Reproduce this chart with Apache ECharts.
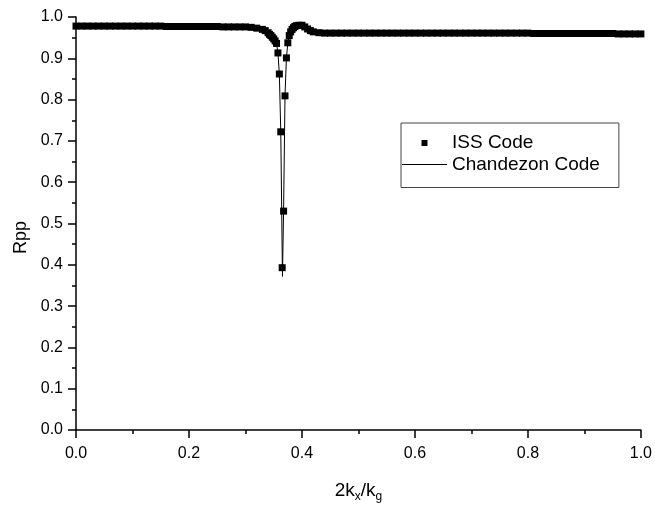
<!DOCTYPE html>
<html>
<head>
<meta charset="utf-8">
<script src="https://cdn.jsdelivr.net/npm/echarts@6/dist/echarts.min.js"></script>
<style>html,body{margin:0;padding:0;background:#fff}#c{width:655px;height:508px}</style>
</head>
<body>
<div id="c"></div>
<script>
// ISS Code (square markers)
const issX = [0.00,0.01,0.02,0.03,0.04,0.05,0.06,0.07,0.08,0.09,0.10,0.11,0.12,0.13,0.14,0.15,0.16,0.17,0.18,0.19,0.20,0.21,0.22,0.23,0.24,0.25,0.26,0.27,0.28,0.29,0.30,0.31,0.32,0.33,
  0.335,0.34,0.3425,0.345,0.3475,0.35,0.3525,0.355,0.3575,0.36,0.3625,0.365,0.3675,0.37,0.3725,0.375,0.3775,0.38,0.3825,0.385,0.3875,0.39,0.395,0.40,0.405,0.41,0.415,0.42,0.43,
  0.44,0.45,0.46,0.47,0.48,0.49,0.50,0.51,0.52,0.53,0.54,0.55,0.56,0.57,0.58,0.59,0.60,0.61,0.62,0.63,0.64,0.65,0.66,0.67,0.68,0.69,0.70,0.71,0.72,0.73,0.74,0.75,0.76,0.77,0.78,0.79,0.80,
  0.81,0.82,0.83,0.84,0.85,0.86,0.87,0.88,0.89,0.90,0.91,0.92,0.93,0.94,0.95,0.96,0.97,0.98,0.99,1.00];
const issY = [0.978,0.978,0.978,0.978,0.978,0.978,0.978,0.978,0.978,0.978,0.978,0.978,0.978,0.978,0.978,0.978,0.977,0.977,0.977,0.977,0.977,0.977,0.977,0.977,0.977,0.977,0.976,0.976,0.976,0.976,0.976,0.975,0.973,0.970,
  0.967,0.962,0.958,0.955,0.951,0.947,0.942,0.936,0.913,0.862,0.722,0.393,0.530,0.809,0.901,0.9375,0.955,0.964,0.970,0.974,0.977,0.979,0.980,0.980,0.976,0.971,0.967,0.964,0.962,
  0.961,0.961,0.961,0.961,0.961,0.961,0.961,0.961,0.961,0.961,0.961,0.961,0.961,0.961,0.961,0.961,0.961,0.961,0.961,0.961,0.961,0.961,0.961,0.961,0.961,0.961,0.961,0.961,0.961,0.961,0.961,0.961,0.961,0.961,0.961,0.961,0.961,
  0.960,0.960,0.960,0.960,0.960,0.960,0.960,0.960,0.960,0.960,0.960,0.960,0.960,0.960,0.960,0.959,0.959,0.959,0.959,0.959];
// Chandezon Code (solid line)
const chX = [0,0.1,0.2,0.3,0.32,0.33,0.34,0.345,0.35,0.355,0.3575,0.36,0.3625,0.3655,0.3675,0.37,0.3725,0.375,0.3775,0.38,0.385,0.39,0.395,0.40,0.405,0.41,0.42,0.43,0.5,0.6,0.7,0.8,0.9,1.0];
const chY = [0.978,0.978,0.977,0.976,0.973,0.970,0.962,0.955,0.947,0.936,0.913,0.862,0.722,0.372,0.530,0.809,0.901,0.9375,0.955,0.964,0.974,0.979,0.980,0.980,0.976,0.971,0.964,0.962,0.961,0.961,0.961,0.960,0.960,0.959];
const xTicks = [0.0,0.2,0.4,0.6,0.8,1.0];
const yTicks = [0.0,0.1,0.2,0.3,0.4,0.5,0.6,0.7,0.8,0.9,1.0];
const seriesNames = ['ISS Code','Chandezon Code'];

const FONT = 'Liberation Sans';
const chart = echarts.init(document.getElementById('c'), null, {renderer:'canvas'});
const axisCommon = {
  axisLine:{show:true,onZero:false,lineStyle:{color:'#000',width:1.5}},
  axisTick:{show:true,inside:false,length:8,lineStyle:{color:'#000',width:1.5}},
  minorTick:{show:true,splitNumber:2,length:4,lineStyle:{color:'#000',width:1.5}},
  splitLine:{show:false},
  axisLabel:{color:'#000',fontFamily:FONT,fontSize:16,formatter:v=>v.toFixed(1)}
};
chart.setOption({
  animation:false,
  backgroundColor:'#fff',
  grid:{left:76,right:13,top:17,bottom:75},
  legend:{
    orient:'vertical',left:401,top:123,
    symbolKeepAspect:true,
    data:[
      {name:seriesNames[0],icon:'path://M0,0L10,0L10,10L0,10Z'},
      {name:seriesNames[1],icon:'path://M0,0L45,0L45,1L0,1Z'}
    ],
    itemWidth:45,itemHeight:6,itemGap:1.5,
    padding:[10,19,13,1],
    borderColor:'#444',borderWidth:1,
    textStyle:{color:'#000',fontFamily:FONT,fontSize:19,lineHeight:20}
  },
  xAxis:Object.assign({},axisCommon,{
    type:'value',min:xTicks[0],max:xTicks[xTicks.length-1],interval:0.2,
    axisLabel:Object.assign({},axisCommon.axisLabel,{margin:16}),
    name:'2k{s|x}/k{s|g}',nameLocation:'middle',nameGap:49,
    nameTextStyle:{color:'#000',fontFamily:FONT,fontSize:19,rich:{s:{fontFamily:FONT,fontSize:12,padding:[12,0,0,0]}}}
  }),
  yAxis:Object.assign({},axisCommon,{
    type:'value',min:yTicks[0],max:yTicks[yTicks.length-1],interval:0.1,
    axisLabel:Object.assign({},axisCommon.axisLabel,{margin:13}),
    name:'Rpp',nameLocation:'middle',nameGap:45,
    nameTextStyle:{color:'#000',fontFamily:FONT,fontSize:18,padding:[0,28,0,0]}
  }),
  series:[
    {name:seriesNames[0],type:'scatter',symbol:'rect',symbolSize:7,itemStyle:{color:'#000',opacity:1},
     data:issX.map((x,i)=>[x,issY[i]]),z:2},
    {name:seriesNames[1],type:'line',symbol:'none',lineStyle:{color:'#000',width:1},itemStyle:{color:'#000'},
     data:chX.map((x,i)=>[x,chY[i]]),z:3}
  ]
});
</script>
</body>
</html>
